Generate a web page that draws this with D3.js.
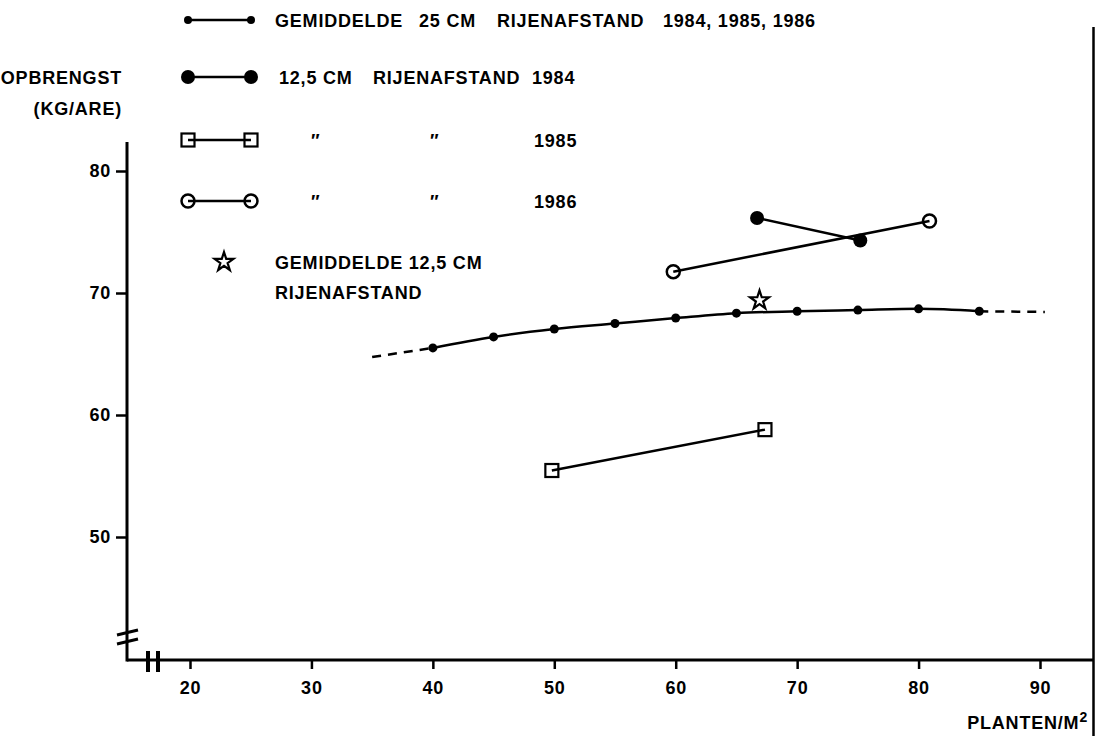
<!DOCTYPE html>
<html>
<head>
<meta charset="utf-8">
<title>Opbrengst rijenafstand</title>
<script src="https://d3js.org/d3.v7.min.js"></script>
<style>
  body { margin: 0; background: #fff; }
  text { font-family: "Liberation Sans", Arial, sans-serif; font-weight: bold; fill: #000;
         font-size: 18px; letter-spacing: 0.8px; }
</style>
</head>
<body>
<div id="chart"></div>
<script>
  // mean of 25 cm row spacing (1984-1986)
  const density25 = [40, 45, 50, 55, 60, 65, 70, 75, 80, 85];
  const yield25 = [65.5, 66.4, 67.05, 67.5, 67.95, 68.35, 68.5, 68.6, 68.7, 68.5];
  // dashed extrapolations of that curve
  const extLeftX = [35, 40], extLeftY = [64.75, 65.5];
  const extRightX = [85, 90.4], extRightY = [68.5, 68.45];

  // 12,5 cm row spacing, per year
  const density1984 = [66.7, 75.2], yield1984 = [76.15, 74.3];
  const density1985 = [49.8, 67.35], yield1985 = [55.45, 58.8];
  const density1986 = [59.8, 80.9], yield1986 = [71.75, 75.9];
  // mean 12,5 cm
  const starX = [66.9], starY = [69.4];

  const xTicks = [20, 30, 40, 50, 60, 70, 80, 90];
  const yTicks = [50, 60, 70, 80];

  const W = 1096, H = 736;
  const svg = d3.select("#chart").append("svg")
    .attr("width", W).attr("height", H);

  const x = d3.scaleLinear().domain([20, 90]).range([190, 1040]);
  const y = d3.scaleLinear().domain([50, 80]).range([537, 171]);

  const axisY = 660, axisX = 127;

  // axes lines
  svg.append("line").attr("x1", axisX).attr("x2", 1093)
    .attr("y1", axisY).attr("y2", axisY)
    .attr("stroke", "#000").attr("stroke-width", 3);
  svg.append("line").attr("x1", axisX).attr("x2", axisX)
    .attr("y1", 142).attr("y2", axisY + 1.5)
    .attr("stroke", "#000").attr("stroke-width", 3);
  // right border of the scan
  svg.append("line").attr("x1", 1093.5).attr("x2", 1093.5)
    .attr("y1", 27).attr("y2", H)
    .attr("stroke", "#000").attr("stroke-width", 2.5);

  // x axis ticks
  const gx = svg.append("g")
    .attr("transform", `translate(0,${axisY})`)
    .call(d3.axisBottom(x).tickValues(xTicks).tickSize(9).tickPadding(9));
  gx.select(".domain").remove();
  gx.selectAll("line").attr("stroke-width", 2.5);
  gx.selectAll("text").attr("dy", "0.9em");

  // y axis ticks
  const gy = svg.append("g")
    .attr("transform", `translate(${axisX},0)`)
    .call(d3.axisLeft(y).tickValues(yTicks).tickSize(11).tickPadding(5));
  gy.select(".domain").remove();
  gy.selectAll("line").attr("stroke-width", 2.5);
  svg.selectAll("g").attr("font-size", null).attr("font-family", null);

  // axis break marks
  svg.append("path")
    .attr("d", "M117,635 L138,630 M117,644 L138,639")
    .attr("stroke", "#000").attr("stroke-width", 3).attr("fill", "none");
  svg.append("path")
    .attr("d", "M148,651 L148,672 M158,651 L158,672")
    .attr("stroke", "#000").attr("stroke-width", 4).attr("fill", "none");

  // axis titles
  svg.append("text").attr("x", 122).attr("y", 84).attr("text-anchor", "end")
    .text("OPBRENGST");
  svg.append("text").attr("x", 122).attr("y", 115).attr("text-anchor", "end")
    .text("(KG/ARE)");
  svg.append("text").attr("x", 1088).attr("y", 729).attr("text-anchor", "end")
    .html('PLANTEN/M<tspan dy="-7" style="font-size:14px">2</tspan>');

  const line = d3.line().x(d => x(d[0])).y(d => y(d[1]));
  const pairs = (xs, ys) => xs.map((v, i) => [v, ys[i]]);

  // 25 cm mean curve
  svg.append("path")
    .datum(pairs(density25, yield25))
    .attr("d", line.curve(d3.curveMonotoneX))
    .attr("fill", "none").attr("stroke", "#000").attr("stroke-width", 2.5);
  line.curve(d3.curveLinear);
  [[extLeftX, extLeftY], [extRightX, extRightY]].forEach(([xs, ys]) => {
    svg.append("path")
      .datum(pairs(xs, ys))
      .attr("d", line)
      .attr("fill", "none").attr("stroke", "#000").attr("stroke-width", 2.5)
      .attr("stroke-dasharray", "9,7");
  });
  svg.selectAll(".dot25")
    .data(pairs(density25, yield25))
    .enter().append("circle")
    .attr("cx", d => x(d[0])).attr("cy", d => y(d[1]))
    .attr("r", 4.5).attr("fill", "#000");

  // yearly 12,5 cm series
  const series = [
    { xs: density1984, ys: yield1984, marker: "dot" },
    { xs: density1985, ys: yield1985, marker: "square" },
    { xs: density1986, ys: yield1986, marker: "circle" }
  ];

  function drawMarker(g, type, cx, cy) {
    if (type === "dot") {
      g.append("circle").attr("cx", cx).attr("cy", cy).attr("r", 7).attr("fill", "#000");
    } else if (type === "square") {
      g.append("rect").attr("x", cx - 6.5).attr("y", cy - 6.5)
        .attr("width", 13).attr("height", 13)
        .attr("fill", "none").attr("stroke", "#000").attr("stroke-width", 2.2);
    } else if (type === "circle") {
      g.append("circle").attr("cx", cx).attr("cy", cy).attr("r", 6.5)
        .attr("fill", "none").attr("stroke", "#000").attr("stroke-width", 2.5);
    } else if (type === "small") {
      g.append("circle").attr("cx", cx).attr("cy", cy).attr("r", 4).attr("fill", "#000");
    }
  }

  series.forEach(s => {
    const pts = pairs(s.xs, s.ys);
    svg.append("path").datum(pts).attr("d", line)
      .attr("fill", "none").attr("stroke", "#000").attr("stroke-width", 2.5);
    pts.forEach(p => drawMarker(svg, s.marker, x(p[0]), y(p[1])));
  });

  // star
  const star = d3.symbol().type(d3.symbolStar).size(110);
  svg.selectAll(".star")
    .data(pairs(starX, starY))
    .enter().append("path")
    .attr("d", star)
    .attr("transform", d => `translate(${x(d[0])},${y(d[1])})`)
    .attr("fill", "none").attr("stroke", "#000").attr("stroke-width", 2.2);

  // legend: each row is a marker plus text pieces placed like the original
  const legend = [
    { yy: 20, marker: "small", parts: [[275, "GEMIDDELDE"], [419, "25 CM"], [497, "RIJENAFSTAND"], [663, "1984, 1985, 1986"]] },
    { yy: 77, marker: "dot", parts: [[279, "12,5 CM"], [373, "RIJENAFSTAND"], [532, "1984"]] },
    { yy: 140, marker: "square", parts: [[311, "\u2033"], [430, "\u2033"], [534, "1985"]] },
    { yy: 201, marker: "circle", parts: [[311, "\u2033"], [430, "\u2033"], [534, "1986"]] }
  ];
  legend.forEach(l => {
    svg.append("line").attr("x1", 188).attr("x2", 251)
      .attr("y1", l.yy).attr("y2", l.yy)
      .attr("stroke", "#000").attr("stroke-width", 2.5);
    drawMarker(svg, l.marker, 188, l.yy);
    drawMarker(svg, l.marker, 251, l.yy);
    l.parts.forEach(([px, t]) => {
      svg.append("text").attr("x", px).attr("y", l.yy + 6.5).text(t);
    });
  });
  svg.append("path").attr("d", star)
    .attr("transform", "translate(224,262)")
    .attr("fill", "none").attr("stroke", "#000").attr("stroke-width", 2.2);
  svg.append("text").attr("x", 275).attr("y", 268.5).text("GEMIDDELDE 12,5 CM");
  svg.append("text").attr("x", 275).attr("y", 298.5).text("RIJENAFSTAND");
</script>
</body>
</html>
